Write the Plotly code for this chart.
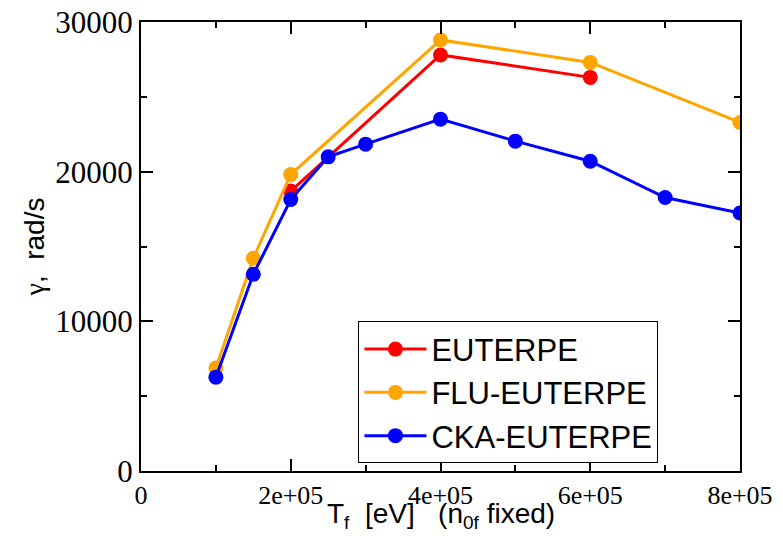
import plotly.graph_objects as go

euterpe_x = [2e5, 4e5, 6e5]
euterpe_y = [18700, 27800, 26300]
flu_x = [1e5, 1.5e5, 2e5, 4e5, 6e5, 8e5]
flu_y = [6880, 14210, 19810, 28800, 27300, 23290]
cka_x = [1e5, 1.5e5, 2e5, 2.5e5, 3e5, 4e5, 5e5, 6e5, 7e5, 8e5]
cka_y = [6270, 13140, 18140, 20990, 21840, 23510, 22040, 20700, 18270, 17240]

series = [
    ("EUTERPE", euterpe_x, euterpe_y, "#ff0000"),
    ("FLU-EUTERPE", flu_x, flu_y, "#ffa500"),
    ("CKA-EUTERPE", cka_x, cka_y, "#0000ff"),
]

fig = go.Figure()
for name, xs, ys, col in series:
    fig.add_trace(go.Scatter(
        x=xs, y=ys, name=name, mode="lines+markers",
        line=dict(color=col, width=3),
        marker=dict(color=col, size=15),
    ))

x_tickvals = [0, 2e5, 4e5, 6e5, 8e5]
x_ticktext = ["0", "2e+05", "4e+05", "6e+05", "8e+05"]
y_tickvals = [0, 10000, 20000, 30000]
y_ticktext = ["0", "10000", "20000", "30000"]

sub = "<sub><span style='font-size:19px'>{}</span></sub>"
x_title = "T" + sub.format("f") + "  [eV]   (n" + sub.format("0f") + " fixed)"
y_title = "<span style='font-family:Liberation Serif'>γ</span>,  rad/s"

fig.update_layout(
    width=783, height=536,
    margin=dict(l=141, r=43, t=22, b=65),
    paper_bgcolor="white", plot_bgcolor="white",
    showlegend=True,
    legend=dict(
        x=0.363, y=0.175, xanchor="left", yanchor="middle",
        bordercolor="black", borderwidth=1, bgcolor="white",
        font=dict(family="Liberation Sans", size=31, color="black"),
        tracegroupgap=0, itemwidth=62,
    ),
    xaxis=dict(
        range=[0, 8e5], tickmode="array", tickvals=x_tickvals, ticktext=x_ticktext,
        ticks="inside", ticklen=12, tickwidth=2, tickcolor="black",
        showline=True, linewidth=2, linecolor="black", mirror="allticks",
        showgrid=False, zeroline=False, automargin=False,
        tickfont=dict(family="Liberation Serif", size=26, color="black"),
        minor=dict(tickvals=[1e5, 3e5, 5e5, 7e5], ticks="inside", ticklen=6, tickwidth=2, tickcolor="black"),
    ),
    yaxis=dict(
        range=[0, 30000], tickmode="array", tickvals=y_tickvals, ticktext=y_ticktext,
        ticks="inside", ticklen=12, tickwidth=2, tickcolor="black",
        showline=True, linewidth=2, linecolor="black", mirror="allticks",
        showgrid=False, zeroline=False, automargin=False,
        tickfont=dict(family="Liberation Serif", size=31, color="black"),
        minor=dict(tickvals=[5000, 15000, 25000], ticks="inside", ticklen=6, tickwidth=2, tickcolor="black"),
        title=dict(text=y_title,
                   font=dict(family="Liberation Sans", size=28, color="black"), standoff=2),
    ),
    annotations=[dict(
        text=x_title, xref="paper", yref="paper", x=0.5, y=-0.056,
        xanchor="center", yanchor="top", showarrow=False,
        font=dict(family="Liberation Sans", size=28, color="black"),
    )],
)

fig.write_html("out.html")
